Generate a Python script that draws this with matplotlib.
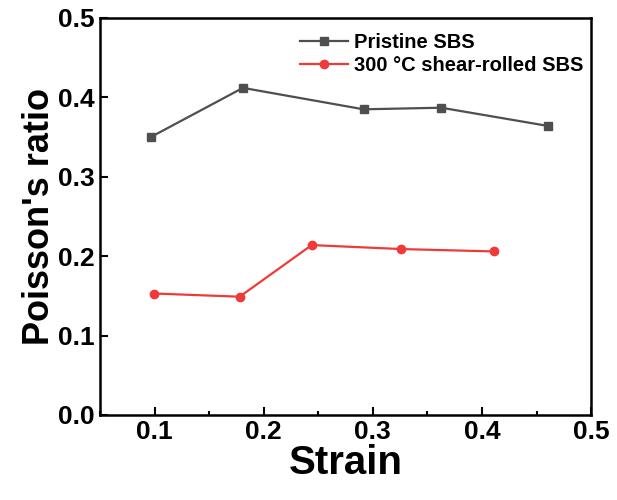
import matplotlib
matplotlib.use("Agg")
from matplotlib import pyplot as plt
from matplotlib.ticker import MultipleLocator

plt.rcParams['font.family'] = ['Liberation Sans', 'DejaVu Sans']
plt.rcParams['font.weight'] = 'bold'

strain_pristine = [0.0965, 0.181, 0.2915, 0.3628, 0.4607]
poisson_pristine = [0.350, 0.412, 0.385, 0.387, 0.364]
strain_rolled = [0.0998, 0.178, 0.244, 0.326, 0.411]
poisson_rolled = [0.153, 0.149, 0.214, 0.209, 0.206]
labels = ['Pristine SBS', '300 °C shear-rolled SBS']

fig = plt.figure(figsize=(6.17, 5), dpi=100)
ax = fig.add_axes([0.162, 0.17, 0.796, 0.794])

ax.plot(strain_pristine, poisson_pristine, color='#4f4f4f', marker='s', markersize=5.5, linewidth=1.6, label=labels[0])
ax.plot(strain_rolled, poisson_rolled, color='#f03a3a', marker='o', markersize=6, linewidth=1.6, label=labels[1])

ax.set_xlim(0.05, 0.5)
ax.set_ylim(0.0, 0.5)
ax.xaxis.set_major_locator(MultipleLocator(0.1))
ax.xaxis.set_minor_locator(MultipleLocator(0.05))
ax.yaxis.set_major_locator(MultipleLocator(0.1))
ax.tick_params(which='both', direction='in', width=1.5, labelsize=19)
ax.tick_params(which='major', length=6)
ax.tick_params(which='minor', length=3)
for s in ax.spines.values():
    s.set_linewidth(1.8)

ax.set_xlabel('Strain', fontsize=29, fontweight='bold', labelpad=0)
ax.set_ylabel("Poisson's ratio", fontsize=26, fontweight='bold', labelpad=1)

ax.legend(loc='upper left', bbox_to_anchor=(0.37, 1.007), frameon=False, fontsize=14.5,
          handlelength=2.4, handletextpad=0.3, labelspacing=0.2)

plt.savefig('out.png', dpi=100)
plt.close()
